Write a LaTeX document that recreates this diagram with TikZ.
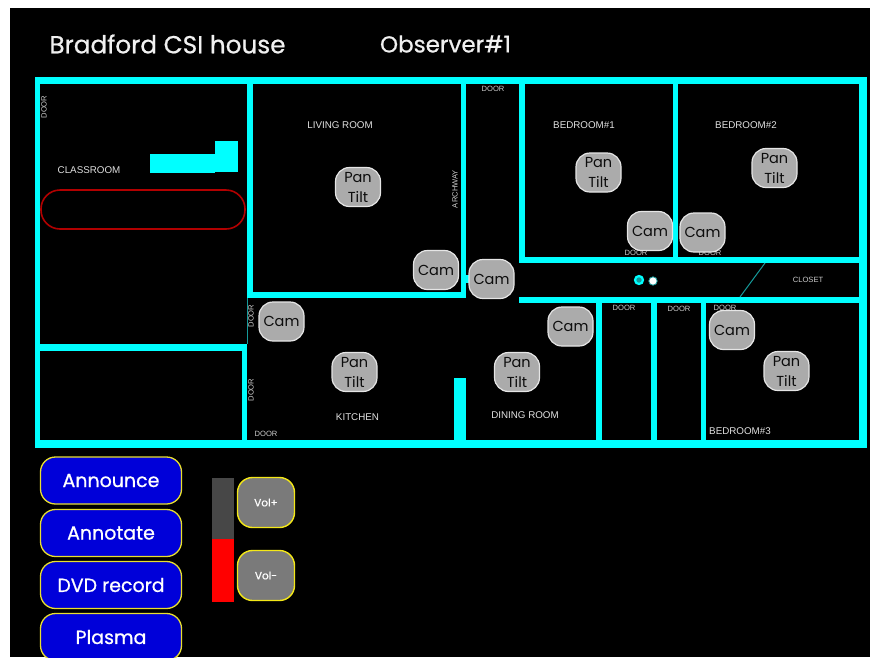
\documentclass[tikz,border=0pt]{standalone}
\usepackage{fontspec}
\setmainfont{Liberation Sans}
\newfontfamily\roundfont{Poppins}
\newfontfamily\heavyfont[FakeBold=0.7]{Poppins}
\definecolor{wallcyan}{HTML}{00FFFF}
\definecolor{thincyan}{HTML}{159A9A}
\tikzset{
	wall/.style={fill=wallcyan},
	camera/.style={draw=black!10, line width=1.2pt, fill=black!33, rounded corners=14pt, minimum width=45pt, minimum height=39pt, inner sep=0pt, align=center, text=black!95, font=\roundfont\fontsize{14.5}{20}\selectfont},
	menubtn/.style={draw=yellow!80!gray, line width=1.3pt, fill=blue!85!black, rounded corners=15pt, minimum width=141pt, minimum height=47pt, inner sep=0pt, text=white, font=\heavyfont\fontsize{19}{20}\selectfont},
	volbtn/.style={draw=yellow!90!gray, line width=1.4pt, fill=black!52, rounded corners=15pt, minimum width=57pt, minimum height=50pt, inner sep=0pt, text=white, font=\heavyfont\fontsize{10.5}{12}\selectfont},
	roomlabel/.style={text=black!12, inner sep=0pt, font=\fontsize{9.8}{10}\selectfont},
	doorlabel/.style={text=black!20, inner sep=0pt, font=\fontsize{7.6}{8}\selectfont},
	titlelabel/.style={text=black!6, inner sep=0pt, font=\heavyfont\fontsize{24.7}{26}\selectfont},
	observerlabel/.style={text=black!6, inner sep=0pt, font=\heavyfont\fontsize{23}{25}\selectfont},
}
\begin{document}
\begin{tikzpicture}[x=1pt, y=-1pt]
	\useasboundingbox (0,0) rectangle (870,657);
	\fill[white] (0,0) rectangle (870,657);
	\fill[black] (10,8) rectangle (870,657);
	\node[titlelabel] (title) at (167.5,44) {Bradford CSI house};
	\node[observerlabel] (observer) at (445.5,44) {Observer\#1};

	\fill[wall] (35,77) rectangle (867,84);
	\fill[wall] (35,440) rectangle (867,448);
	\fill[wall] (35,77) rectangle (40,448);
	\fill[wall] (859,77) rectangle (867,448);
	\fill[wall] (247,84) rectangle (253,298);
	\fill[wall] (247,292) rectangle (466,298);
	\fill[wall] (461,84) rectangle (466,298);
	\fill[wall] (466,275) rectangle (470,283);
	\fill[wall] (40,344) rectangle (247,351);
	\fill[wall] (242,351) rectangle (247,440);
	\fill[wall] (454,378) rectangle (466,440);
	\fill[wall] (519,84) rectangle (525,263);
	\fill[wall] (519,257) rectangle (859,263);
	\fill[wall] (673,84) rectangle (678,257);
	\fill[wall] (519,297) rectangle (859,303);
	\fill[wall] (596,303) rectangle (602,440);
	\fill[wall] (651,303) rectangle (657,440);
	\fill[wall] (701,303) rectangle (706,440);
	\fill[wall] (150,154) rectangle (215,173);
	\fill[wall] (215,141) rectangle (238,172);
	\draw[thincyan, line width=1pt] (247,298) -- (247,344);
	\draw[thincyan, line width=1pt] (765,263) -- (740,297);
	\draw[red!70!black, line width=1.6pt, rounded corners=19pt] (41,190) rectangle (245,229);

	\node[roomlabel] (classroom) at (89,170) {CLASSROOM};
	\node[roomlabel] (livingroom) at (340,125.5) {LIVING ROOM};
	\node[roomlabel] (bedroomone) at (584,125.5) {BEDROOM\#1};
	\node[roomlabel] (bedroomtwo) at (746,125.5) {BEDROOM\#2};
	\node[doorlabel] (closet) at (808,280) {CLOSET};
	\node[roomlabel] (kitchen) at (357.5,417) {KITCHEN};
	\node[roomlabel] (diningroom) at (525,415) {DINING ROOM};
	\node[roomlabel] (bedroomthree) at (740,431) {BEDROOM\#3};
	\node[doorlabel, rotate=90] (doorclass) at (44,107) {DOOR};
	\node[doorlabel, rotate=90] (doorkitchena) at (251,316) {DOOR};
	\node[doorlabel, rotate=90] (doorkitchenb) at (251,390) {DOOR};
	\node[doorlabel] (doorkitchenc) at (266,434) {DOOR};
	\node[doorlabel] (doorhall) at (493,89) {DOOR};
	\node[doorlabel, rotate=90] (archway) at (455,189) {ARCHWAY};
	\node[doorlabel] (doorbedone) at (636,253) {DOOR};
	\node[doorlabel] (doorbedtwo) at (710,253) {DOOR};
	\node[doorlabel] (doorlowa) at (624,308) {DOOR};
	\node[doorlabel] (doorlowb) at (679,309) {DOOR};
	\node[doorlabel] (doorlowc) at (725,308) {DOOR};

	\draw[wallcyan, fill=thincyan, line width=2.2pt] (639,280) circle (4);
	\draw[thincyan, fill=white, line width=0.8pt] (653,281) circle (4.2);

	\node[camera] (pantiltliving) at (358,187) {Pan\\Tilt};
	\node[camera] (pantiltkitchen) at (354.5,372) {Pan\\Tilt};
	\node[camera] (pantiltdining) at (517,372) {Pan\\Tilt};
	\node[camera] (pantiltbedone) at (598.5,172.5) {Pan\\Tilt};
	\node[camera] (pantiltbedtwo) at (774.5,168) {Pan\\Tilt};
	\node[camera] (pantiltbedthree) at (786.5,371) {Pan\\Tilt};
	\node[camera] (camliving) at (436,270) {Cam};
	\node[camera] (camhall) at (491.5,279) {Cam};
	\node[camera] (camkitchen) at (281.5,321.5) {Cam};
	\node[camera] (camdining) at (570.5,326.5) {Cam};
	\node[camera] (cambedone) at (650,231) {Cam};
	\node[camera] (cambedtwo) at (702.5,232.5) {Cam};
	\node[camera] (cambedthree) at (732,330) {Cam};

	\node[menubtn] (announce) at (111,480.5) {Announce};
	\node[menubtn] (annotate) at (111,533) {Annotate};
	\node[menubtn] (dvdrecord) at (111,585) {DVD record};
	\node[menubtn] (plasma) at (111,637) {Plasma};

	\fill[black!72] (212,478) rectangle (234,539);
	\fill[red] (212,539) rectangle (234,602);
	\node[volbtn] (volup) at (266,502.5) {Vol+};
	\node[volbtn] (voldown) at (266,575.5) {Vol-};
\end{tikzpicture}
\end{document}
